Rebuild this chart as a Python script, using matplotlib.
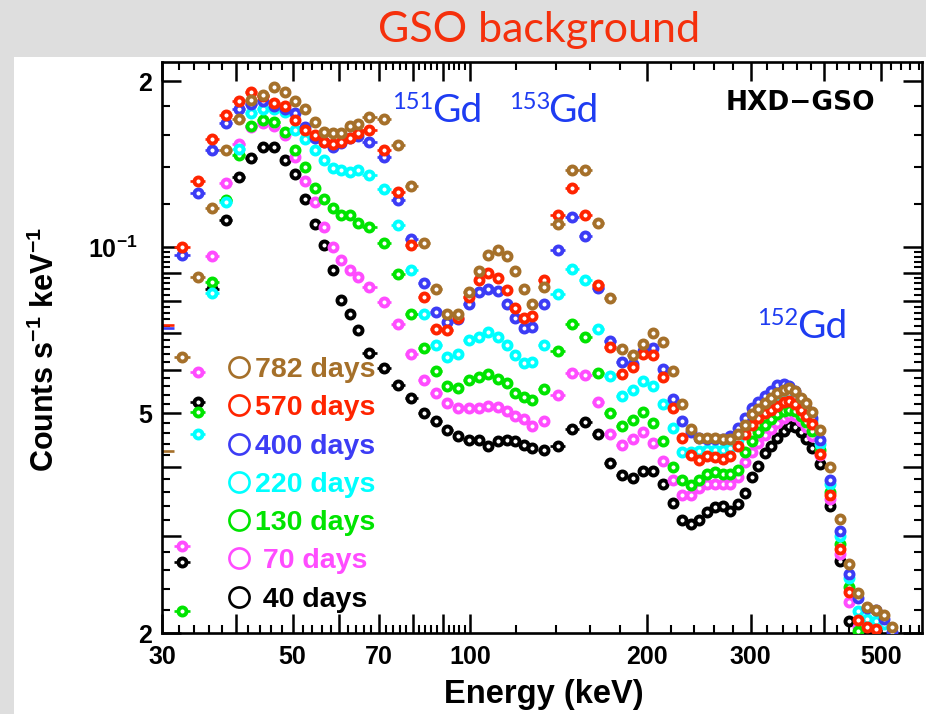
import numpy as np
import matplotlib
matplotlib.use("Agg")
import matplotlib.pyplot as plt
from matplotlib.lines import Line2D
from matplotlib.patches import Rectangle
from matplotlib.ticker import FixedLocator, FixedFormatter

plt.rcParams["font.family"] = ["Liberation Sans", "DejaVu Sans"]
plt.rcParams["font.weight"] = "bold"
plt.rcParams["mathtext.default"] = "regular"

nan = np.nan

# energy bin centres (keV) and half widths: 2, 4, 8 and 16 keV grouping
energy_kev = [30.5, 32.5, 34.5, 36.5, 38.5, 40.5, 42.5, 44.5, 46.5, 48.5, 50.5, 52.5,
              54.5, 56.5, 58.5, 60.5, 62.5, 64.5,
              67.5, 71.5, 75.5, 79.5, 83.5, 87.5, 91.5, 95.5, 99.5, 103.5, 107.5,
              111.5, 115.5, 119.5, 123.5, 127.5,
              133.5,
              141, 149, 157, 165, 173, 181, 189, 197, 205, 213, 221, 229, 237, 245,
              253, 261, 269, 277, 285, 293, 301, 309, 317, 325, 333, 341, 349, 357,
              365, 373, 381,
              393, 409, 425, 441, 457, 473, 489, 505, 521]
half_width = [1.0] * 18 + [2.0] * 16 + [3.0] + [4.0] * 31 + [8.0] * 9

# counts s^-1 keV^-1 for each elapsed time since launch
rate_782 = [0.0428, 0.0634, 0.0883, 0.118, 0.150, 0.171, 0.185, 0.189, 0.195, 0.191,
            0.184, 0.178, 0.169, 0.162, 0.161, 0.161, 0.166, 0.167,
            0.172, 0.171, 0.153, 0.129, 0.102, 0.084, 0.0756, 0.0756, 0.0830, 0.0906,
            0.0967, 0.0990, 0.0963, 0.0906, 0.0841, 0.0788,
            0.0849,
            0.1104, 0.138, 0.138, 0.1107, 0.0810, 0.0654, 0.0637, 0.0668, 0.0699,
            0.0673, 0.0598, 0.0520, 0.0469, 0.0451, 0.0451, 0.0451, 0.0449, 0.0449,
            0.0459, 0.0477, 0.0498, 0.0510, 0.0522, 0.0533, 0.0544, 0.0552, 0.0557,
            0.0548, 0.0534, 0.0522, 0.0502,
            0.0467, 0.0399, 0.0322, 0.0267, 0.0236, 0.0223, 0.0220, 0.0216, 0.0205]
rate_570 = [0.0722, 0.100, 0.132, 0.157, 0.174, 0.184, 0.191, 0.188, 0.183, 0.180,
            0.170, 0.163, 0.160, 0.155, 0.154, 0.155, 0.158, 0.161,
            0.1635, 0.150, 0.126, 0.1008, 0.0812, 0.0712, 0.0709, 0.0745, 0.0812,
            0.0871, 0.0899, 0.0881, 0.0838, 0.0777, 0.0746, 0.0750,
            0.0874,
            0.1143, 0.128, 0.1143, 0.0853, 0.0660, 0.0590, 0.0606, 0.0640, 0.0637,
            0.0583, 0.0512, 0.0451, 0.0421, 0.0412, 0.0419, 0.0417, 0.0414, 0.0419,
            0.0437, 0.0458, 0.0477, 0.0490, 0.0500, 0.0508, 0.0516, 0.0524, 0.0526,
            0.0520, 0.0508, 0.0495, 0.0479,
            0.0422, 0.0355, 0.0284, 0.0237, 0.0211, 0.0205, 0.0203, nan, nan]
rate_400 = [0.0715, 0.097, 0.1255, 0.150, 0.168, 0.178, 0.182, 0.184, 0.180, 0.178,
            0.175, 0.165, 0.158, 0.155, 0.152, 0.1545, 0.158, 0.159,
            0.155, 0.1458, 0.122, 0.1036, 0.0860, 0.0763, 0.0732, 0.0742, 0.0790,
            0.0830, 0.0841, 0.0835, 0.0788, 0.0746, 0.0715, 0.0717,
            0.0788,
            0.0987, 0.1135, 0.1048, 0.0843, 0.0676, 0.0620, 0.0615, 0.0650, 0.0656,
            0.0603, 0.0532, 0.0484, 0.0463, 0.0452, 0.0450, 0.0450, 0.0450, 0.0455,
            0.0470, 0.0490, 0.0512, 0.0525, 0.0538, 0.0550, 0.0562, 0.0565, 0.0560,
            0.0550, 0.0532, 0.0512, 0.0490,
            0.0448, 0.0378, 0.0306, 0.0256, 0.0231, 0.0222, 0.0220, 0.0212, 0.0201]
rate_220 = [nan, nan, 0.0458, 0.0827, 0.121, 0.151, 0.175, 0.178, 0.178, 0.176,
            0.163, 0.157, 0.150, 0.144, 0.139, 0.138, 0.137, 0.138,
            0.135, 0.1273, 0.1096, 0.0908, 0.0757, 0.0666, 0.0634, 0.0642, 0.0678,
            0.0687, 0.0702, 0.0687, 0.0664, 0.0637, 0.0616, 0.0620,
            0.0664,
            0.0822, 0.0915, 0.0874, 0.0710, 0.0584, 0.0538, 0.0551, 0.0573, 0.0560,
            0.0519, 0.0471, 0.0425, 0.0425, 0.0428, 0.0430, 0.0430, 0.0430, 0.0432,
            0.0447, 0.0470, 0.0492, 0.0505, 0.0518, 0.0528, 0.0538, 0.0545, 0.0545,
            0.0535, 0.0520, 0.0505, 0.0485,
            0.0440, 0.0372, 0.0300, 0.0252, 0.0219, 0.0212, 0.0210, 0.0208, nan]
rate_130 = [nan, 0.0219, 0.0503, 0.0866, 0.122, 0.147, 0.166, 0.170, 0.169, 0.162,
            0.150, 0.140, 0.128, 0.1225, 0.118, 0.1143, 0.1143, 0.1107,
            0.109, 0.1018, 0.0893, 0.0756, 0.0658, 0.0597, 0.0560, 0.0555, 0.0574,
            0.0583, 0.0590, 0.0578, 0.0568, 0.0544, 0.0535, 0.0528,
            0.0554,
            0.0648, 0.0725, 0.0689, 0.0593, 0.0500, 0.0475, 0.0486, 0.0504, 0.0481,
            0.0445, 0.0400, 0.0378, 0.0371, 0.0378, 0.0388, 0.0392, 0.0388, 0.0389,
            0.0395, 0.0425, 0.0446, 0.0463, 0.0477, 0.0488, 0.0498, 0.0506, 0.0508,
            0.0505, 0.0495, 0.0482, 0.0465,
            0.0430, 0.0360, 0.0290, 0.0242, 0.0202, nan, nan, nan, nan]
rate_70 = [nan, 0.0287, 0.0594, 0.0963, 0.131, 0.154, 0.165, 0.168, 0.166, 0.160,
           0.146, 0.132, 0.121, 0.109, 0.1002, 0.0947, 0.0911, 0.0884,
           0.0848, 0.0795, 0.0725, 0.0640, 0.0576, 0.0544, 0.0522, 0.0512, 0.0512,
           0.0512, 0.0515, 0.0513, 0.0505, 0.0494, 0.0489, 0.0474,
           0.0485,
           0.0539, 0.0593, 0.0588, 0.0524, 0.0459, 0.0439, 0.0449, 0.0463, 0.0442,
           0.0410, 0.0378, 0.0356, 0.0356, 0.0367, 0.0372, 0.0373, 0.0373, 0.0373,
           0.0383, 0.0408, 0.0425, 0.0442, 0.0456, 0.0468, 0.0480, 0.0490, 0.0496,
           0.0494, 0.0485, 0.0472, 0.0455,
           0.0420, 0.0350, 0.0278, 0.0228, 0.0205, nan, nan, nan, nan]
rate_40 = [nan, 0.0269, 0.0524, 0.084, 0.112, 0.134, 0.145, 0.152, 0.152, 0.144,
           0.136, 0.1225, 0.110, 0.101, 0.091, 0.0801, 0.0758, 0.0709,
           0.0643, 0.0605, 0.0564, 0.0534, 0.0500, 0.0484, 0.0466, 0.0455, 0.0448,
           0.0448, 0.0437, 0.0446, 0.0448, 0.0446, 0.0439, 0.0433,
           0.0430,
           0.0437, 0.0469, 0.0482, 0.0459, 0.0406, 0.0386, 0.0382, 0.0394, 0.0394,
           0.0372, 0.0344, 0.0320, 0.0315, 0.0320, 0.0331, 0.0339, 0.0340, 0.0333,
           0.0342, 0.0359, 0.0383, 0.0402, 0.0423, 0.0437, 0.0452, 0.0465, 0.0475,
           0.0473, 0.0462, 0.0450, 0.0432,
           0.0405, 0.0340, 0.0270, 0.0210, nan, nan, nan, nan, nan]

labels = ["782 days", "570 days", "400 days", "220 days", "130 days", " 70 days", " 40 days"]
colors = ["#a5702a", "#ff2400", "#3c3cf5", "#00ffff", "#00e400", "#ff4cff", "#000000"]
rates = [rate_782, rate_570, rate_400, rate_220, rate_130, rate_70, rate_40]

W, H = 926, 714
fig = plt.figure(figsize=(W / 100, H / 100), dpi=100, facecolor="#dedede")
fig.patches.append(Rectangle((14 / W, 0), 1 - 14 / W, 1 - 57 / H,
                             transform=fig.transFigure, facecolor="white",
                             edgecolor="none", zorder=-5))

ax = fig.add_axes([162 / W, 1 - 633 / H, 760 / W, 571 / H], zorder=2)
ax.set_xscale("log")
ax.set_yscale("log")
ax.set_xlim(30, 586)
ax.set_ylim(0.02, 0.2167)

energy = np.array(energy_kev)
hw = np.array(half_width)
shown = energy > 31  # bins whose centre falls left of the frame only show their bar

# oldest data drawn last so it sits on top
for color, rate in list(zip(colors, rates))[::-1]:
    r = np.array(rate)
    ax.errorbar(energy, r, xerr=hw, fmt="none", ecolor=color, elinewidth=1.9,
                capsize=0, zorder=2)
    ax.plot(energy[shown], r[shown], ls="none", marker="o", ms=5.8, mew=2.8,
            mfc="white", mec=color, zorder=3)

# axis ticks
x_major = [30, 40, 50, 60, 70, 80, 90, 100, 200, 300, 400, 500]
x_text = ["30", "", "50", "", "70", "", "", "100", "200", "300", "", "500"]
x_minor = [v for v in list(range(32, 100, 2)) + list(range(120, 600, 20)) if v not in x_major]
y_major = [0.02, 0.03, 0.04, 0.05, 0.06, 0.07, 0.08, 0.09, 0.1, 0.2]
y_text = ["2", "", "", "5", "", "", "", "", "10$^{-1}$   ", "2"]
y_minor = [v / 1000 for v in list(range(22, 100, 2)) + list(range(120, 200, 20))
           if v % 10 != 0 or v > 100]

ax.xaxis.set_major_locator(FixedLocator(x_major))
ax.xaxis.set_major_formatter(FixedFormatter(x_text))
ax.xaxis.set_minor_locator(FixedLocator(x_minor))
ax.xaxis.set_minor_formatter(FixedFormatter([""] * len(x_minor)))
ax.yaxis.set_major_locator(FixedLocator(y_major))
ax.yaxis.set_major_formatter(FixedFormatter(y_text))
ax.yaxis.set_minor_locator(FixedLocator(y_minor))
ax.yaxis.set_minor_formatter(FixedFormatter([""] * len(y_minor)))

ax.tick_params(which="both", direction="in", top=True, right=True, color="black")
ax.tick_params(which="major", length=14, width=1.8, labelsize=18)
ax.tick_params(which="minor", length=5.5, width=1.5)
ax.tick_params(axis="x", which="major", pad=9)
ax.tick_params(axis="y", which="major", pad=7)
for s in ax.spines.values():
    s.set_linewidth(1.9)

fig.text(544 / W, 1 - 703 / H, "Energy (keV)", fontsize=23.5, ha="center", va="baseline")
fig.text(45 / W, 1 - 350 / H, "Counts s$^{-1}$ keV$^{-1}$", fontsize=22,
         rotation=90, ha="center", va="center")

# legend: ring plus coloured label
for i, (lab, color) in enumerate(zip(labels, colors)):
    yy = 0.466 - i * 0.0671
    ax.plot([0.1008], [yy], transform=ax.transAxes, marker="o", ms=14.5, mew=1.9,
            mfc="none", mec=color, clip_on=False, zorder=4)
    ax.text(0.122, yy, lab, transform=ax.transAxes, color=color, fontsize=20.5,
            ha="left", va="center_baseline", zorder=4)

fig.text(726 / W, 1 - 110 / H, "HXD\u2212GSO", fontsize=19, family="DejaVu Sans",
         weight="bold", ha="left", va="baseline")

fig.text(539 / W, 1 - 42 / H, "GSO background", fontsize=31, family="Lato",
         weight="normal", color="#f5300c", ha="center", va="baseline")

# isotope labels and pointers
iso_blue = "#1e3cf2"
for mass, x_num, x_gd, base in [("151", 392, 432, 122), ("153", 509, 548, 122),
                                ("152", 757, 797, 338)]:
    fig.text(x_gd / W, 1 - base / H, "Gd", fontsize=28, family="Lato",
             weight="normal", color=iso_blue, ha="left", va="baseline")
    fig.text(x_num / W, 1 - (base - 13) / H, mass, fontsize=17, family="Lato",
             weight="normal", color=iso_blue, ha="left", va="baseline")

for (x1, y1), (x2, y2) in [((418, 153), (466, 131)), ((510, 216), (576, 128)),
                           ((576, 128), (576, 155))]:
    fig.add_artist(Line2D([x1 / W, x2 / W], [1 - y1 / H, 1 - y2 / H],
                          transform=fig.transFigure, color=iso_blue, lw=1.6))

fig.savefig("out.png", dpi=100, facecolor=fig.get_facecolor())
